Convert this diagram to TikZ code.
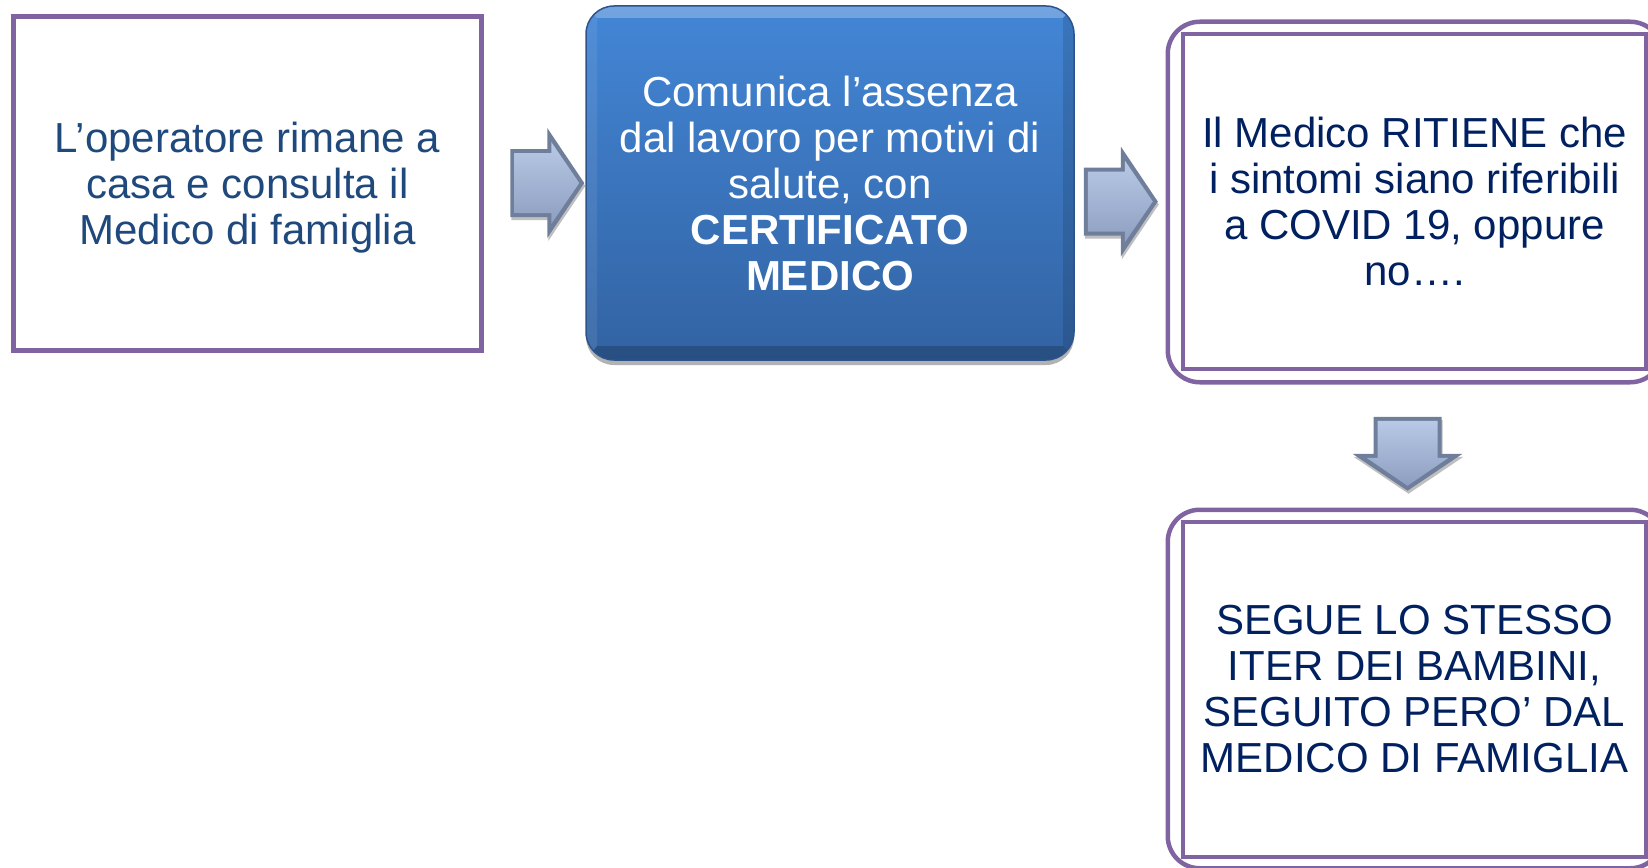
\documentclass[tikz,border=0pt]{standalone}
\usepackage{fontspec}
\setmainfont{Liberation Sans}
\usetikzlibrary{calc,shadows}

\definecolor{boxpurple}{HTML}{8064A2}
\definecolor{txtblue}{HTML}{1F497D}
\definecolor{txtnavy}{HTML}{002060}
\definecolor{facetop}{HTML}{4386D6}
\definecolor{facebot}{HTML}{3263A3}
\definecolor{faceedge}{HTML}{2C538C}
\definecolor{arrtop}{HTML}{B8C9E6}
\definecolor{arrbot}{HTML}{8D9EC0}
\definecolor{arredge}{HTML}{6F7E9B}

\tikzset{
  bigtext/.style={font=\fontsize{42}{46}\selectfont, align=center, inner sep=0pt},
  plainbox/.style={bigtext, draw=boxpurple, line width=5pt, text=txtblue,
    minimum width=468pt, minimum height=334pt},
  framebox/.style={bigtext, draw=boxpurple, line width=4.5pt, text=txtnavy,
    minimum width=463pt, minimum height=335pt},
  outerframe/.style={draw=boxpurple, line width=4.5pt, rounded corners=32pt},
  midbox/.style={bigtext, text=white, rounded corners=28pt, draw=faceedge, line width=1.5pt,
    top color=facetop, bottom color=facebot, minimum width=488pt, minimum height=354pt,
    drop shadow={shadow xshift=0pt, shadow yshift=-5pt, opacity=.3, fill=black},
    path picture={
      \begin{scope}[sharp corners]
      \coordinate (pa) at (path picture bounding box.north west);
      \coordinate (pb) at (path picture bounding box.south east);
      % bevel edges
      \fill[white, opacity=.25] (pa) -- (pb|-pa) -- ($(pb|-pa)+(-11,12)$) -- ($(pa)+(11,12)$) -- cycle;
      \fill[white, opacity=.08] (pa) -- ($(pa)+(11,12)$) -- ($(pa|-pb)+(11,-14)$) -- (pa|-pb) -- cycle;
      \fill[black, opacity=.12] (pb|-pa) -- (pb) -- ($(pb)+(-11,-14)$) -- ($(pb|-pa)+(-11,12)$) -- cycle;
      \fill[black, opacity=.20] (pa|-pb) -- ($(pa|-pb)+(11,-14)$) -- ($(pb)+(-11,-14)$) -- (pb) -- cycle;
      \end{scope}
    }},
  blockarr/.pic={
    \fill[arredge, drop shadow={shadow xshift=1pt, shadow yshift=-3pt, opacity=.25, fill=black}]
      (-74,-34) -- (-37,-34) -- (-37,-55) -- (0,0) -- (-37,55) -- (-37,34) -- (-74,34) -- cycle;
    \shade[top color=arrtop, bottom color=arrbot]
      (-70,-30) -- (-33,-30) -- (-33,-41) -- (-5,0) -- (-33,41) -- (-33,30) -- (-70,30) -- cycle;
  }
}

\begin{document}
\begin{tikzpicture}[x=1pt,y=-1pt]
\useasboundingbox (0,0) rectangle (1648,867);
\clip (0,0) rectangle (1648,867);

% boxes
\node[plainbox, text depth=0pt] (operatore) at (247.5,183.5) {L’operatore rimane a\\casa e consulta il\\Medico di famiglia};
\node[midbox] (comunica) at (830,183) {Comunica l’assenza\\dal lavoro per motivi di\\salute, con\\\textbf{CERTIFICATO}\\\textbf{MEDICO}};
\node[framebox] (ritiene) at (1414.5,201.5) {Il Medico RITIENE che\\i sintomi siano riferibili\\a COVID 19, oppure\\no….};
\node[framebox] (segue) at (1414.5,689.5) {SEGUE LO STESSO\\ITER DEI BAMBINI,\\SEGUITO PERO’ DAL\\MEDICO DI FAMIGLIA};
\draw[outerframe] ($(ritiene.north west)+(-13,-10)$) rectangle ($(ritiene.south east)+(14,11)$);
\draw[outerframe] ($(segue.north west)+(-13,-10)$) rectangle ($(segue.south east)+(14,9)$);

% arrows
\pic at ($(comunica.west)+(-1,0)$) {blockarr};
\pic at ($(ritiene.west)+(-23,0)$) {blockarr};
\pic[rotate=-90] at ($(segue.north)+(-7,-29)$) {blockarr};
\end{tikzpicture}
\end{document}
